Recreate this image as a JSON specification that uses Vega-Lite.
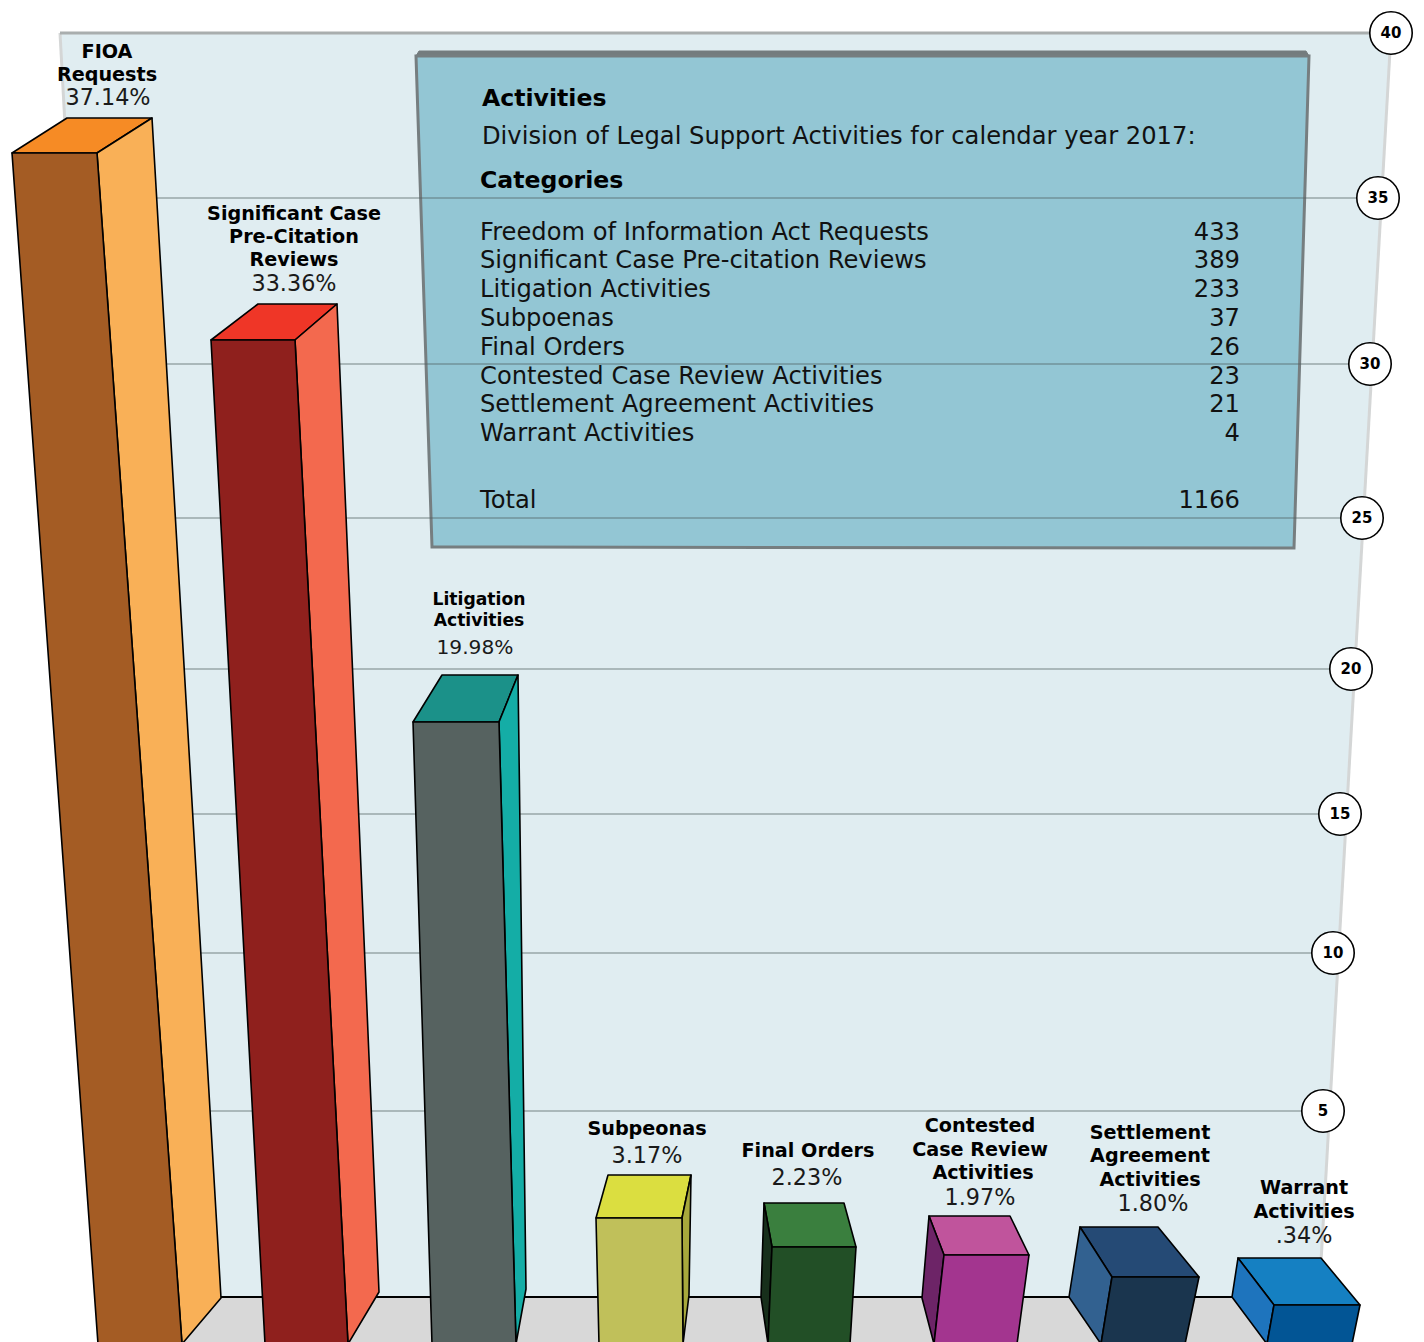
{
"$schema":"https://vega.github.io/schema/vega-lite/v6.json",
"width":1424,"height":1342,
"autosize":{"type":"none"},
"padding":0,
"background":"white",
"view":{"stroke":null},
"config":{"text":{"font":"DejaVu Sans"}},
"datasets":{
"wall":[{"i":0,"x":60,"y":33},{"i":1,"x":1391,"y":33},{"i":2,"x":1319,"y":1297},{"i":3,"x":122,"y":1297}],
"wallEdges":[{"edge":"right","i":0,"x":1391,"y":33},{"edge":"right","i":1,"x":1319,"y":1297},{"edge":"left","i":0,"x":60,"y":33},{"edge":"left","i":1,"x":65,"y":125}],
"wallTop":[{"i":0,"x":60,"y":33},{"i":1,"x":1391,"y":33}],
"floor":[{"i":0,"x":150,"y":1297},{"i":1,"x":1319,"y":1297},{"i":2,"x":1352,"y":1343},{"i":3,"x":150,"y":1343}],
"floorEdge":[{"i":0,"x":150,"y":1297},{"i":1,"x":1319,"y":1297}],
"panelTop":[{"i":0,"x":416,"y":56},{"i":1,"x":419,"y":51},{"i":2,"x":1306,"y":51},{"i":3,"x":1309,"y":56}],
"panel":[{"i":0,"x":416,"y":56},{"i":1,"x":1309,"y":56},{"i":2,"x":1294,"y":548},{"i":3,"x":432,"y":547}],
"grid":[{"tick":35,"y":198,"left":68,"right":1378},{"tick":30,"y":364,"left":76,"right":1370},{"tick":25,"y":518,"left":84,"right":1362},{"tick":20,"y":669,"left":92,"right":1351},{"tick":15,"y":814,"left":99,"right":1340},{"tick":10,"y":953,"left":106,"right":1333},{"tick":5,"y":1111,"left":114,"right":1323}],
"ticks":[{"tick":40,"x":1391,"y":33},{"tick":35,"x":1378,"y":198},{"tick":30,"x":1370,"y":364},{"tick":25,"x":1362,"y":518},{"tick":20,"x":1351,"y":669},{"tick":15,"x":1340,"y":814},{"tick":10,"x":1333,"y":953},{"tick":5,"x":1323,"y":1111}],
"faces":[
{"face":"FIOA top","i":0,"x":12,"y":153},{"face":"FIOA top","i":1,"x":67,"y":118},{"face":"FIOA top","i":2,"x":152,"y":118},{"face":"FIOA top","i":3,"x":97,"y":153},
{"face":"FIOA side","i":0,"x":97,"y":153},{"face":"FIOA side","i":1,"x":152,"y":118},{"face":"FIOA side","i":2,"x":221,"y":1298},{"face":"FIOA side","i":3,"x":182,"y":1344},
{"face":"FIOA front","i":0,"x":12,"y":153},{"face":"FIOA front","i":1,"x":97,"y":153},{"face":"FIOA front","i":2,"x":182,"y":1344},{"face":"FIOA front","i":3,"x":98,"y":1344},
{"face":"Significant top","i":0,"x":211,"y":340},{"face":"Significant top","i":1,"x":258,"y":304},{"face":"Significant top","i":2,"x":337,"y":304},{"face":"Significant top","i":3,"x":295,"y":340},
{"face":"Significant side","i":0,"x":295,"y":340},{"face":"Significant side","i":1,"x":337,"y":304},{"face":"Significant side","i":2,"x":379,"y":1292},{"face":"Significant side","i":3,"x":348,"y":1344},
{"face":"Significant front","i":0,"x":211,"y":340},{"face":"Significant front","i":1,"x":295,"y":340},{"face":"Significant front","i":2,"x":348,"y":1344},{"face":"Significant front","i":3,"x":265,"y":1344},
{"face":"Litigation top","i":0,"x":413,"y":722},{"face":"Litigation top","i":1,"x":442,"y":675},{"face":"Litigation top","i":2,"x":518,"y":675},{"face":"Litigation top","i":3,"x":499,"y":722},
{"face":"Litigation side","i":0,"x":499,"y":722},{"face":"Litigation side","i":1,"x":518,"y":675},{"face":"Litigation side","i":2,"x":526,"y":1289},{"face":"Litigation side","i":3,"x":516,"y":1344},
{"face":"Litigation front","i":0,"x":413,"y":722},{"face":"Litigation front","i":1,"x":499,"y":722},{"face":"Litigation front","i":2,"x":516,"y":1344},{"face":"Litigation front","i":3,"x":432,"y":1344},
{"face":"Subpeonas top","i":0,"x":596,"y":1218},{"face":"Subpeonas top","i":1,"x":608,"y":1175},{"face":"Subpeonas top","i":2,"x":691,"y":1175},{"face":"Subpeonas top","i":3,"x":682,"y":1218},
{"face":"Subpeonas side","i":0,"x":682,"y":1218},{"face":"Subpeonas side","i":1,"x":691,"y":1175},{"face":"Subpeonas side","i":2,"x":689,"y":1295},{"face":"Subpeonas side","i":3,"x":683,"y":1344},
{"face":"Subpeonas front","i":0,"x":596,"y":1218},{"face":"Subpeonas front","i":1,"x":682,"y":1218},{"face":"Subpeonas front","i":2,"x":683,"y":1344},{"face":"Subpeonas front","i":3,"x":599,"y":1344},
{"face":"Final top","i":0,"x":772,"y":1247},{"face":"Final top","i":1,"x":764,"y":1203},{"face":"Final top","i":2,"x":844,"y":1203},{"face":"Final top","i":3,"x":856,"y":1247},
{"face":"Final side","i":0,"x":764,"y":1203},{"face":"Final side","i":1,"x":772,"y":1247},{"face":"Final side","i":2,"x":768,"y":1344},{"face":"Final side","i":3,"x":761,"y":1297},
{"face":"Final front","i":0,"x":772,"y":1247},{"face":"Final front","i":1,"x":856,"y":1247},{"face":"Final front","i":2,"x":850,"y":1344},{"face":"Final front","i":3,"x":768,"y":1344},
{"face":"Contested top","i":0,"x":944,"y":1255},{"face":"Contested top","i":1,"x":929,"y":1216},{"face":"Contested top","i":2,"x":1010,"y":1216},{"face":"Contested top","i":3,"x":1029,"y":1255},
{"face":"Contested side","i":0,"x":929,"y":1216},{"face":"Contested side","i":1,"x":944,"y":1255},{"face":"Contested side","i":2,"x":934,"y":1344},{"face":"Contested side","i":3,"x":922,"y":1298},
{"face":"Contested front","i":0,"x":944,"y":1255},{"face":"Contested front","i":1,"x":1029,"y":1255},{"face":"Contested front","i":2,"x":1017,"y":1344},{"face":"Contested front","i":3,"x":934,"y":1344},
{"face":"Settlement top","i":0,"x":1112,"y":1277},{"face":"Settlement top","i":1,"x":1080,"y":1227},{"face":"Settlement top","i":2,"x":1158,"y":1227},{"face":"Settlement top","i":3,"x":1199,"y":1277},
{"face":"Settlement side","i":0,"x":1080,"y":1227},{"face":"Settlement side","i":1,"x":1112,"y":1277},{"face":"Settlement side","i":2,"x":1101,"y":1344},{"face":"Settlement side","i":3,"x":1069,"y":1297},
{"face":"Settlement front","i":0,"x":1112,"y":1277},{"face":"Settlement front","i":1,"x":1199,"y":1277},{"face":"Settlement front","i":2,"x":1185,"y":1344},{"face":"Settlement front","i":3,"x":1101,"y":1344},
{"face":"Warrant top","i":0,"x":1274,"y":1305},{"face":"Warrant top","i":1,"x":1238,"y":1258},{"face":"Warrant top","i":2,"x":1321,"y":1258},{"face":"Warrant top","i":3,"x":1360,"y":1305},
{"face":"Warrant side","i":0,"x":1238,"y":1258},{"face":"Warrant side","i":1,"x":1274,"y":1305},{"face":"Warrant side","i":2,"x":1267,"y":1344},{"face":"Warrant side","i":3,"x":1232,"y":1297},
{"face":"Warrant front","i":0,"x":1274,"y":1305},{"face":"Warrant front","i":1,"x":1360,"y":1305},{"face":"Warrant front","i":2,"x":1352,"y":1344},{"face":"Warrant front","i":3,"x":1267,"y":1344}
],
"barNames":[
{"t":"FIOA","x":107,"y":58},{"t":"Requests","x":107,"y":81},
{"t":"Significant Case","x":294,"y":220},{"t":"Pre-Citation","x":294,"y":243},{"t":"Reviews","x":294,"y":266},
{"t":"Subpeonas","x":647,"y":1135},{"t":"Final Orders","x":808,"y":1157},
{"t":"Contested","x":980,"y":1132},{"t":"Case Review","x":980,"y":1156},{"t":"Activities","x":983,"y":1179},
{"t":"Settlement","x":1150,"y":1139},{"t":"Agreement","x":1150,"y":1162},{"t":"Activities","x":1150,"y":1186},
{"t":"Warrant","x":1304,"y":1194},{"t":"Activities","x":1304,"y":1218}
],
"smallNames":[{"t":"Litigation","x":479,"y":605},{"t":"Activities","x":479,"y":626}],
"shares":[{"t":"37.14%","x":108,"y":105},{"t":"33.36%","x":294,"y":291},{"t":"3.17%","x":647,"y":1163},{"t":"2.23%","x":807,"y":1185},{"t":"1.97%","x":980,"y":1205},{"t":"1.80%","x":1153,"y":1211},{"t":".34%","x":1304,"y":1243}],
"smallShares":[{"t":"19.98%","x":475,"y":654}],
"heads":[{"t":"Activities","x":482,"y":106},{"t":"Categories","x":480,"y":188}],
"panelText":[{"t":"Division of Legal Support Activities for calendar year 2017:","x":482,"y":144},
{"t":"Freedom of Information Act Requests","x":480,"y":240},{"t":"Significant Case Pre-citation Reviews","x":480,"y":268},{"t":"Litigation Activities","x":480,"y":297},{"t":"Subpoenas","x":480,"y":326},{"t":"Final Orders","x":480,"y":355},{"t":"Contested Case Review Activities","x":480,"y":384},{"t":"Settlement Agreement Activities","x":480,"y":412},{"t":"Warrant Activities","x":480,"y":441},{"t":"Total","x":480,"y":508}],
"counts":[{"n":"433","x":1240,"y":240},{"n":"389","x":1240,"y":268},{"n":"233","x":1240,"y":297},{"n":"37","x":1240,"y":326},{"n":"26","x":1240,"y":355},{"n":"23","x":1240,"y":384},{"n":"21","x":1240,"y":412},{"n":"4","x":1240,"y":441},{"n":"1166","x":1240,"y":508}]
},
"encoding":{
"x":{"field":"x","type":"quantitative","axis":null,"scale":{"domain":[0,1424],"nice":false,"zero":false}},
"y":{"field":"y","type":"quantitative","axis":null,"scale":{"domain":[0,1342],"reverse":true,"nice":false,"zero":false}}
},
"layer":[
{"data":{"name":"wall"},"mark":{"type":"line","interpolate":"linear-closed","fill":"#E0EDF1","strokeWidth":0},"encoding":{"order":{"field":"i"}}},
{"data":{"name":"wallEdges"},"mark":{"type":"line","stroke":"#D4D6D6","strokeWidth":3},"encoding":{"detail":{"field":"edge"},"order":{"field":"i"}}},
{"data":{"name":"wallTop"},"mark":{"type":"line","stroke":"#A9AEAE","strokeWidth":3},"encoding":{"order":{"field":"i"}}},
{"data":{"name":"floor"},"mark":{"type":"line","interpolate":"linear-closed","fill":"#D8D8D8","strokeWidth":0},"encoding":{"order":{"field":"i"}}},
{"data":{"name":"floorEdge"},"mark":{"type":"line","stroke":"black","strokeWidth":2},"encoding":{"order":{"field":"i"}}},
{"data":{"name":"panelTop"},"mark":{"type":"line","interpolate":"linear-closed","fill":"#747C7E","stroke":"#747C7E","strokeWidth":1},"encoding":{"order":{"field":"i"}}},
{"data":{"name":"panel"},"mark":{"type":"line","interpolate":"linear-closed","fill":"#93C6D4","stroke":"#767E80","strokeWidth":3,"strokeJoin":"miter"},"encoding":{"order":{"field":"i"}}},
{"data":{"name":"grid"},"mark":{"type":"rule","stroke":"#4F5F60","strokeWidth":1.5,"opacity":0.5},"encoding":{"x":{"field":"left","type":"quantitative"},"x2":{"field":"right"},"y":{"field":"y","type":"quantitative"}}},
{"data":{"name":"faces"},"mark":{"type":"line","interpolate":"linear-closed","stroke":"black","strokeWidth":1.6,"strokeJoin":"round"},"encoding":{"order":{"field":"i"},"fill":{"field":"face","type":"nominal","legend":null,"scale":{
"domain":["FIOA top","FIOA side","FIOA front","Significant top","Significant side","Significant front","Litigation top","Litigation side","Litigation front","Subpeonas top","Subpeonas side","Subpeonas front","Final top","Final side","Final front","Contested top","Contested side","Contested front","Settlement top","Settlement side","Settlement front","Warrant top","Warrant side","Warrant front"],
"range":["#F68B25","#F9B057","#A45C24","#EF3627","#F3694E","#8F201D","#1B9189","#14ADA6","#566260","#DBDE40","#A7A83C","#C0C05A","#3A7F3E","#172F1B","#224F26","#C0549C","#6D2467","#A3358F","#254A75","#326190","#1A354E","#1580C2","#1E74BD","#025595"]}}}},
{"data":{"name":"barNames"},"mark":{"type":"text","font":"DejaVu Sans","fontWeight":"bold","fontSize":19.2,"align":"center","baseline":"alphabetic","fill":"black"},"encoding":{"text":{"field":"t"}}},
{"data":{"name":"smallNames"},"mark":{"type":"text","font":"DejaVu Sans","fontWeight":"bold","fontSize":17.2,"align":"center","baseline":"alphabetic","fill":"black"},"encoding":{"text":{"field":"t"}}},
{"data":{"name":"shares"},"mark":{"type":"text","font":"DejaVu Sans","fontSize":22.3,"align":"center","baseline":"alphabetic","fill":"#1a1a1a"},"encoding":{"text":{"field":"t"}}},
{"data":{"name":"smallShares"},"mark":{"type":"text","font":"DejaVu Sans","fontSize":20.2,"align":"center","baseline":"alphabetic","fill":"#1a1a1a"},"encoding":{"text":{"field":"t"}}},
{"data":{"name":"heads"},"mark":{"type":"text","font":"DejaVu Sans","fontWeight":"bold","fontSize":23.6,"align":"left","baseline":"alphabetic","fill":"black"},"encoding":{"text":{"field":"t"}}},
{"data":{"name":"panelText"},"mark":{"type":"text","font":"DejaVu Sans","fontSize":24.2,"align":"left","baseline":"alphabetic","fill":"#111"},"encoding":{"text":{"field":"t"}}},
{"data":{"name":"counts"},"mark":{"type":"text","font":"DejaVu Sans","fontSize":24.2,"align":"right","baseline":"alphabetic","fill":"#111"},"encoding":{"text":{"field":"n"}}},
{"data":{"name":"ticks"},"mark":{"type":"point","shape":"circle","filled":true,"fill":"white","stroke":"black","strokeWidth":1.6,"size":1800,"opacity":1}},
{"data":{"name":"ticks"},"mark":{"type":"text","font":"DejaVu Sans","fontWeight":"bold","fontSize":15,"align":"center","baseline":"middle","fill":"black"},"encoding":{"text":{"field":"tick","type":"quantitative"}}}
]
}
